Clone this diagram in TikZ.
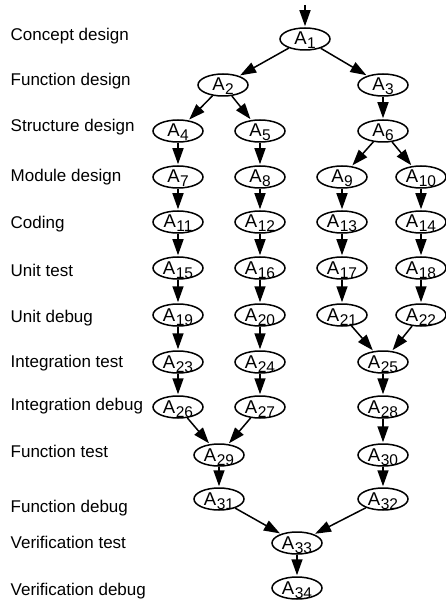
\documentclass[tikz,border=0pt]{standalone}
\usepackage{fontspec}
\setmainfont{Liberation Sans}
\usetikzlibrary{shapes.geometric,arrows.meta}
\newcommand{\An}[1]{\makebox[0pt][c]{\smash{\raisebox{-6pt}{\fontsize{18.5}{18}\selectfont A\kern0.5pt\raisebox{-4pt}{\fontsize{15.5}{16}\selectfont #1}}}}}
\tikzset{
  act/.style={ellipse, draw, line width=1.5pt, minimum width=50pt, minimum height=22pt, inner sep=0pt},
  arr/.style={line width=1.5pt, -{Triangle[length=16pt,width=11pt]}, shorten >=1pt},
  lab/.style={anchor=base west, inner sep=0pt, font=\fontsize{17}{18}\selectfont}
}
\begin{document}
\begin{tikzpicture}[x=1pt,y=-1pt]
\useasboundingbox (0,0) rectangle (446,601);
% labels
\node[lab] (l1) at (10.5,41) {Concept design};
\node[lab] (l2) at (10.5,86) {Function design};
\node[lab] (l3) at (10.5,132) {Structure design};
\node[lab] (l4) at (10.5,182) {Module design};
\node[lab] (l5) at (10.5,229) {Coding};
\node[lab] (l6) at (10.5,276) {Unit test};
\node[lab] (l7) at (10.5,322) {Unit debug};
\node[lab] (l8) at (10.5,367) {Integration test};
\node[lab] (l9) at (10.5,410) {Integration debug};
\node[lab] (l10) at (10.5,457) {Function test};
\node[lab] (l11) at (10.5,512) {Function debug};
\node[lab] (l12) at (10.5,548) {Verification test};
\node[lab] (l13) at (10.5,595) {Verification debug};
% nodes
\node[act] (a1) at (305,39) {\An{1}};
\node[act] (a2) at (223,85) {\An{2}};
\node[act] (a3) at (383,85) {\An{3}};
\node[act] (a4) at (178,131) {\An{4}};
\node[act] (a5) at (260,131) {\An{5}};
\node[act] (a6) at (383,131) {\An{6}};
\node[act] (a7) at (178,177) {\An{7}};
\node[act] (a8) at (260,177) {\An{8}};
\node[act] (a9) at (342,177) {\An{9}};
\node[act] (a10) at (421,177) {\An{10}};
\node[act] (a11) at (178,222) {\An{11}};
\node[act] (a12) at (260,222) {\An{12}};
\node[act] (a13) at (342,222) {\An{13}};
\node[act] (a14) at (421,222) {\An{14}};
\node[act] (a15) at (178,268) {\An{15}};
\node[act] (a16) at (260,268) {\An{16}};
\node[act] (a17) at (342,268) {\An{17}};
\node[act] (a18) at (421,268) {\An{18}};
\node[act] (a19) at (178,315) {\An{19}};
\node[act] (a20) at (260,315) {\An{20}};
\node[act] (a21) at (342,315) {\An{21}};
\node[act] (a22) at (421,315) {\An{22}};
\node[act] (a23) at (178,362) {\An{23}};
\node[act] (a24) at (260,362) {\An{24}};
\node[act] (a25) at (383,362) {\An{25}};
\node[act] (a26) at (178,407) {\An{26}};
\node[act] (a27) at (260,407) {\An{27}};
\node[act] (a28) at (383,407) {\An{28}};
\node[act] (a29) at (219,455) {\An{29}};
\node[act] (a30) at (383,455) {\An{30}};
\node[act] (a31) at (219,499) {\An{31}};
\node[act] (a32) at (383,499) {\An{32}};
\node[act] (a33) at (297,543) {\An{33}};
\node[act] (a34) at (297,588) {\An{34}};
\coordinate (top) at (305,5);
% edges
\draw[arr] (top) -- (a1);
\draw[arr] (a1) -- (a2);
\draw[arr] (a1) -- (a3);
\draw[arr] (a2) -- (a4);
\draw[arr] (a2) -- (a5);
\draw[arr] (a3) -- (a6);
\draw[arr] (a6) -- (a9);
\draw[arr] (a6) -- (a10);
\draw[arr] (a4) -- (a7);
\draw[arr] (a5) -- (a8);
\draw[arr] (a7) -- (a11);
\draw[arr] (a8) -- (a12);
\draw[arr] (a9) -- (a13);
\draw[arr] (a10) -- (a14);
\draw[arr] (a11) -- (a15);
\draw[arr] (a12) -- (a16);
\draw[arr] (a13) -- (a17);
\draw[arr] (a14) -- (a18);
\draw[arr] (a15) -- (a19);
\draw[arr] (a16) -- (a20);
\draw[arr] (a17) -- (a21);
\draw[arr] (a18) -- (a22);
\draw[arr] (a19) -- (a23);
\draw[arr] (a20) -- (a24);
\draw[arr] (a21) -- (a25);
\draw[arr] (a22) -- (a25);
\draw[arr] (a23) -- (a26);
\draw[arr] (a24) -- (a27);
\draw[arr] (a25) -- (a28);
\draw[arr] (a26) -- (a29);
\draw[arr] (a27) -- (a29);
\draw[arr] (a28) -- (a30);
\draw[arr] (a29) -- (a31);
\draw[arr] (a30) -- (a32);
\draw[arr] (a31) -- (a33);
\draw[arr] (a32) -- (a33);
\draw[arr] (a33) -- (a34);
\end{tikzpicture}
\end{document}
